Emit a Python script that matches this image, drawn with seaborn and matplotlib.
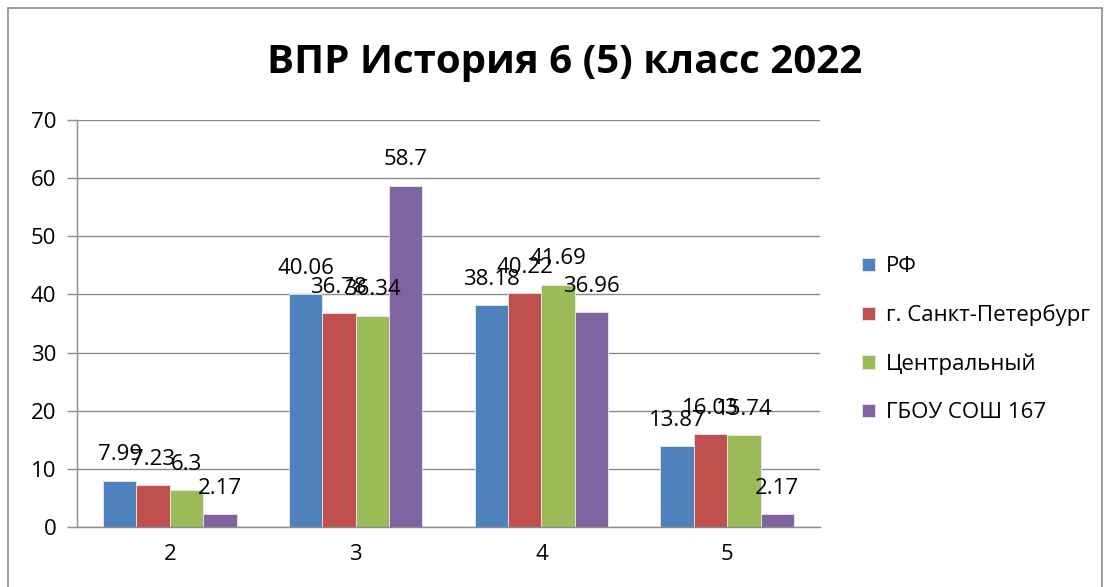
import pandas as pd
import seaborn as sns
import matplotlib.pyplot as plt
from matplotlib.lines import Line2D

grades = ["2", "3", "4", "5"]
groups = ["РФ", "г. Санкт-Петербург", "Центральный", "ГБОУ СОШ 167"]
rf = [7.99, 40.06, 38.18, 13.87]
spb = [7.23, 36.78, 40.22, 16.03]
central = [6.3, 36.34, 41.69, 15.74]
school = [2.17, 58.7, 36.96, 2.17]
colors = ["#4F81BD", "#C0504D", "#9BBB59", "#8064A2"]

df = pd.DataFrame({
    "grade": grades * 4,
    "group": [g for g in groups for _ in grades],
    "value": rf + spb + central + school,
})

sns.set_style("white")
plt.rcParams["font.family"] = ["Open Sans", "DejaVu Sans"]
plt.rcParams["text.color"] = "black"

fig = plt.figure(figsize=(11.1, 5.87), dpi=100)
ax = fig.add_axes([77 / 1110, 1 - 527 / 587, (820 - 77) / 1110, (527 - 120) / 587])

sns.barplot(data=df, x="grade", y="value", hue="group", palette=colors, saturation=1,
            width=0.72, gap=0, edgecolor="#e8e8f0", linewidth=0.6, ax=ax)

for cont in ax.containers:
    ax.bar_label(cont, labels=[f"{v:g}" for v in cont.datavalues],
                 padding=11, fontsize=16, color="black")

ax.set_ylim(0, 70)
ax.set_xlim(-0.5, 3.5)
ax.set_yticks(range(0, 71, 10))
ax.yaxis.grid(True, color="#8c8c8c", linewidth=1)
ax.set_axisbelow(True)
ax.set_xlabel("")
ax.set_ylabel("")
ax.set_xticks([-0.5, 0.5, 1.5, 2.5, 3.5], minor=True)
ax.tick_params(axis="x", which="major", length=0, labelsize=16, pad=12, labelcolor="black")
ax.tick_params(axis="x", which="minor", length=8, color="#8c8c8c", width=1)
ax.tick_params(axis="y", length=7, color="#8c8c8c", width=1, labelsize=16, pad=8,
               labelcolor="black")
ax.tick_params(left=True, bottom=True)
for s in ["top", "right"]:
    ax.spines[s].set_visible(False)
for s in ["left", "bottom"]:
    ax.spines[s].set_color("#8c8c8c")
    ax.spines[s].set_linewidth(1)

ax.legend(loc="center left", bbox_to_anchor=(1.03, 0.46), frameon=False,
          fontsize=16, handlelength=0.55, handleheight=0.55, labelspacing=1.22,
          handletextpad=0.5)

fig.text(0.509, 0.894, "ВПР История 6 (5) класс 2022", ha="center", va="center",
         fontsize=29, fontweight="bold", color="black")

fig.add_artist(Line2D([8 / 1110, 8 / 1110], [0, 1 - 8 / 587], color="#8c8c8c", lw=1.2,
                      transform=fig.transFigure))
fig.add_artist(Line2D([8 / 1110, 1102 / 1110], [1 - 8 / 587, 1 - 8 / 587], color="#8c8c8c",
                      lw=1.2, transform=fig.transFigure))
fig.add_artist(Line2D([1102 / 1110, 1102 / 1110], [1 - 8 / 587, 0], color="#8c8c8c",
                      lw=1.2, transform=fig.transFigure))

plt.savefig("out.png", dpi=100)
